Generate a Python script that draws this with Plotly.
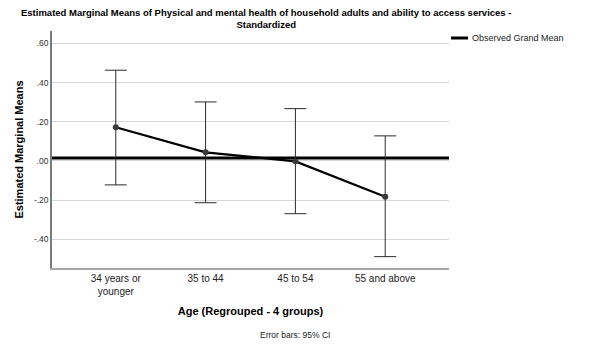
import plotly.graph_objects as go

# Estimated marginal means by age group, with 95% confidence limits
age_groups = ["34 years or<br>younger", "35 to 44", "45 to 54", "55 and above"]
means = [0.172, 0.044, -0.002, -0.182]
ci_upper = [0.463, 0.301, 0.267, 0.128]
ci_lower = [-0.122, -0.213, -0.269, -0.488]
grand_mean = 0.015

y_ticks = [0.6, 0.4, 0.2, 0.0, -0.2, -0.4]
y_tick_text = [".60", ".40", ".20", ".00", "-.20", "-.40"]

x_pos = list(range(len(age_groups)))
err_plus = [u - m for u, m in zip(ci_upper, means)]
err_minus = [m - l for m, l in zip(means, ci_lower)]

FONT = "Liberation Sans, Arial, sans-serif"
PLOT_W, PLOT_H = 594 - 52 - 145, 345 - 31 - 77

fig = go.Figure()

fig.add_trace(go.Scatter(
    x=x_pos, y=means,
    mode="lines+markers",
    line=dict(color="#000000", width=2.2),
    marker=dict(color="#3a3a3a", size=6),
    error_y=dict(type="data", symmetric=False, array=err_plus, arrayminus=err_minus,
                 color="#2b2b2b", thickness=1, width=11),
    showlegend=False,
    cliponaxis=False,
))

# Observed grand mean reference line
fig.add_shape(type="line", xref="paper", yref="y", x0=0, x1=1,
              y0=grand_mean, y1=grand_mean,
              line=dict(color="#000000", width=3), layer="below")

# Legend key for the grand mean line
key_y = 1.0 - 7 / PLOT_H
fig.add_shape(type="line", xref="paper", yref="paper", x0=1.005, x1=1.048,
              y0=key_y, y1=key_y, line=dict(color="#000000", width=3))
fig.add_annotation(xref="paper", yref="paper", x=1.053, y=key_y,
                   xanchor="left", yanchor="middle", showarrow=False,
                   text="Observed Grand Mean",
                   font=dict(family=FONT, size=9, color="#222222"))

# Chart title
fig.add_annotation(xref="paper", yref="paper", x=(266 - 52) / PLOT_W,
                   y=1 + (31 - 5) / PLOT_H, xanchor="center", yanchor="top",
                   showarrow=False, align="center",
                   text="<b>Estimated Marginal Means of Physical and mental health of household adults and ability to access services -<br>Standardized</b>",
                   font=dict(family=FONT, size=9.5, color="#000000"))

fig.add_annotation(xref="paper", yref="paper", x=(295 - 52) / PLOT_W,
                   y=-(335 - 268) / PLOT_H,
                   xanchor="center", yanchor="middle", showarrow=False,
                   text="Error bars: 95% CI",
                   font=dict(family=FONT, size=8.5, color="#222222"))

fig.update_layout(
    width=594, height=345,
    margin=dict(l=52, r=145, t=31, b=77),
    paper_bgcolor="white", plot_bgcolor="white",
    font=dict(family=FONT, color="#000000"),
    xaxis=dict(
        range=[-0.71, 3.71], tickvals=x_pos, ticktext=age_groups,
        showgrid=False, zeroline=False,
        showline=True, linecolor="#a8a8a8", linewidth=1.5,
        ticks="", tickfont=dict(family=FONT, size=10, color="#222222"),
        title=dict(text="<b>Age (Regrouped - 4 groups)</b>", standoff=12,
                   font=dict(family=FONT, size=11, color="#000000")),
    ),
    yaxis=dict(
        range=[-0.546, 0.663], tickvals=y_ticks, ticktext=y_tick_text,
        showgrid=True, gridcolor="#d6d6d6", gridwidth=1, zeroline=False,
        showline=True, linecolor="#7a7a7a", linewidth=1.5,
        ticks="", tickfont=dict(family=FONT, size=8.5, color="#333333"),
        title=dict(text="<b>Estimated Marginal Means</b>", standoff=8,
                   font=dict(family=FONT, size=11, color="#000000")),
    ),
)

fig.write_html("out.html")
